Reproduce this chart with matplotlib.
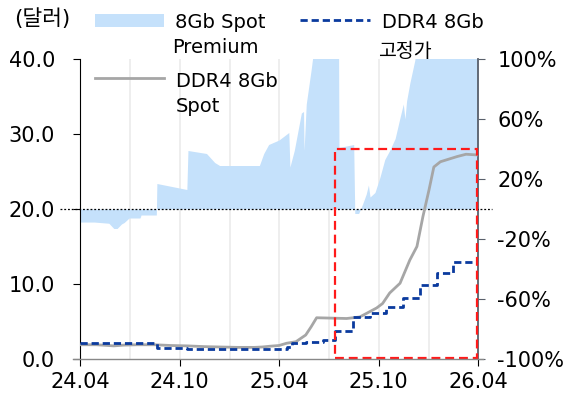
import matplotlib
matplotlib.use("Agg")
import matplotlib.pyplot as plt
import matplotlib.dates as mdates
from matplotlib.patches import Rectangle
from matplotlib.lines import Line2D
import pandas as pd

plt.rcParams['font.family'] = ['DejaVu Sans', 'Noto Sans CJK KR']

# 8Gb Spot Premium (%), right axis
premium_dates = [
    "2024-04-01", "2024-04-27", "2024-05-24", "2024-06-02", "2024-06-08", "2024-06-16",
    "2024-06-21", "2024-06-30", "2024-07-20", "2024-07-22", "2024-08-19", "2024-08-20",
    "2024-10-14", "2024-10-16", "2024-11-19", "2024-12-04", "2024-12-13", "2025-02-24",
    "2025-03-04", "2025-03-13", "2025-04-01", "2025-04-19", "2025-04-21", "2025-04-29",
    "2025-05-12", "2025-05-16", "2025-05-17", "2025-05-21", "2025-05-30", "2025-06-05",
    "2025-06-15", "2025-07-10", "2025-07-19", "2025-07-20", "2025-08-16", "2025-08-18",
    "2025-08-25", "2025-09-01", "2025-09-08", "2025-09-12", "2025-09-15", "2025-09-24",
    "2025-10-03", "2025-10-12", "2025-10-21", "2025-10-31", "2025-11-09", "2025-11-15",
    "2025-11-18", "2025-11-21", "2025-11-27", "2025-12-06", "2025-12-10", "2026-01-15",
    "2026-04-01",
]
premium_pct = [
    -8.7, -8.7, -9.5, -13, -13, -10,
    -9, -6, -6, -4, -4, 17,
    13, 39, 37, 31, 29, 29,
    37, 43, 46, 51, 28, 39,
    64, 65, 39, 70, 93, 110,
    140, 150, 130, 41, 43, -3,
    -3, 3, 10, 16, 8, 11,
    21, 33, 39, 47, 61, 70,
    60, 72, 84, 99, 110, 180,
    200,
]

# DDR4 8Gb Spot ($)
spot_dates = [
    "2024-04-01", "2024-05-01", "2024-06-02", "2024-06-20", "2024-07-15", "2024-08-15",
    "2024-09-15", "2024-10-15", "2024-11-15", "2024-12-15", "2025-01-15", "2025-02-15",
    "2025-03-01", "2025-03-15", "2025-04-01", "2025-04-15", "2025-05-02", "2025-05-20",
    "2025-05-30", "2025-06-09", "2025-08-03", "2025-08-27", "2025-09-09", "2025-09-27",
    "2025-10-08", "2025-10-21", "2025-11-09", "2025-11-27", "2025-12-10", "2025-12-21",
    "2026-01-01", "2026-01-10", "2026-01-22", "2026-02-22", "2026-03-10", "2026-04-01",
]
spot_price = [
    1.9, 1.9, 1.75, 1.85, 1.9, 1.9,
    1.8, 1.75, 1.65, 1.6, 1.55, 1.55,
    1.6, 1.7, 1.8, 2.1, 2.3, 3.2,
    4.3, 5.5, 5.4, 5.6, 6.1, 6.8,
    7.4, 8.8, 10.1, 13.2, 15.0, 19.0,
    22.5, 25.6, 26.3, 27.0, 27.3, 27.2,
]

# DDR4 8Gb fixed (contract) price ($), step changes
fixed_dates = [
    "2024-04-01", "2024-08-20", "2024-10-15", "2025-04-15", "2025-04-25", "2025-05-20",
    "2025-06-20", "2025-07-12", "2025-08-14", "2025-09-15", "2025-10-15", "2025-11-14",
    "2025-12-15", "2026-01-15", "2026-02-14", "2026-04-01",
]
fixed_price = [
    2.1, 1.5, 1.3, 1.6, 2.1, 2.3,
    2.5, 3.7, 5.6, 6.2, 7.0, 8.1,
    9.9, 11.5, 13.0, 13.0,
]

left_ticks = [0, 10, 20, 30, 40]
right_ticks = [-100, -60, -20, 20, 60, 100]
x_ticks = ["2024-04-01", "2024-10-01", "2025-04-01", "2025-10-01", "2026-04-01"]

premium_dates = pd.to_datetime(premium_dates)
spot_dates = pd.to_datetime(spot_dates)
fixed_dates = pd.to_datetime(fixed_dates)

fill_color = '#c5e1fb'
gray = '#a6a6a6'
navy = '#0a3a9e'
dash = (0, (2.6, 1.4))

W, H = 567, 400
fig = plt.figure(figsize=(W / 100, H / 100), dpi=100)
ax = fig.add_axes([80 / W, 1 - 359 / H, 398 / W, 300 / H])
ax2 = ax.twinx()
ax.set_zorder(ax2.get_zorder() + 1)
ax.patch.set_visible(False)

# premium area on right axis
ax2.fill_between(premium_dates, 0, premium_pct, color=fill_color, lw=0, zorder=2)
ax2.set_ylim(-100, 100)
ax2.set_yticks(right_ticks)
ax2.set_yticklabels([f"{v}%" for v in right_ticks])

# vertical gridlines every 3 months
for d in pd.date_range("2024-07-01", "2026-01-01", freq="3MS"):
    ax2.axvline(d, color='#ebebeb', lw=1.2, zorder=1)

ax.plot(spot_dates, spot_price, color=gray, lw=2.0, zorder=4)
ax.plot(fixed_dates, fixed_price, color=navy, lw=2.0, ls=dash,
        drawstyle='steps-post', zorder=5)

ax.set_ylim(0, 40)
ax.set_yticks(left_ticks)
ax.set_yticklabels([f"{v:.1f}" for v in left_ticks])
ax.set_xlim(pd.Timestamp("2024-04-01"), pd.Timestamp("2026-04-01"))
ax.set_xticks(pd.to_datetime(x_ticks))
ax.xaxis.set_major_formatter(mdates.DateFormatter('%y.%m'))

# 0% reference line, extends past the axes
ax.plot([-0.05, 1.035], [0.5, 0.5], transform=ax.transAxes, color='black', lw=0.9,
        ls=(0, (1.5, 1.5)), clip_on=False, zorder=3)

# highlight box
x0 = mdates.date2num(pd.Timestamp("2025-07-12"))
x1 = mdates.date2num(pd.Timestamp("2026-03-31"))
ax.add_patch(Rectangle((x0, 0.15), x1 - x0, 27.85, fill=False, ec='#ff1a1a', lw=1.6,
                       ls=(0, (4, 2.2)), zorder=6, clip_on=False))

for a in (ax, ax2):
    a.spines['top'].set_visible(False)
    a.spines['bottom'].set_visible(False)
ax.spines['right'].set_visible(False)
ax2.spines['left'].set_visible(False)
ax.spines['left'].set_color('black')
ax2.spines['right'].set_color('#59606b')
ax2.spines['right'].set_linewidth(1.3)
# bottom axis line, a little wider than the plot
ax.plot([-0.018, 1.013], [0, 0], transform=ax.transAxes, color='#888888', lw=1.0,
        clip_on=False, zorder=7)

ax.tick_params(axis='y', labelsize=15, length=5, pad=13)
ax.tick_params(axis='x', labelsize=15, length=5, pad=4)
ax2.tick_params(axis='y', labelsize=15, length=5, pad=9, color='#59606b')

def px(x, y):
    return x / W, 1 - y / H

fig.text(*px(14, 25), "(달러)", fontsize=15.5, ha='left', va='baseline')

# legend, handles aligned with first text line
fig.add_artist(Rectangle(px(95, 27), 69 / W, 13 / H, color=fill_color, lw=0,
                         transform=fig.transFigure))
fig.add_artist(Line2D([95 / W, 164 / W], [1 - 78 / H] * 2, color=gray, lw=2.0,
                      transform=fig.transFigure))
fig.add_artist(Line2D([300 / W, 370 / W], [1 - 20 / H] * 2, color=navy, lw=2.0, ls=dash,
                      transform=fig.transFigure))
legend_lines = [
    (175, 28, "8Gb Spot"), (172, 53, "Premium"),
    (176, 87, "DDR4 8Gb"), (176, 112, "Spot"),
    (382, 28, "DDR4 8Gb"), (378, 57, "고정가"),
]
for lx, ly, s in legend_lines:
    fig.text(*px(lx, ly), s, fontsize=14, ha='left', va='baseline')

fig.savefig("out.png", dpi=100)
